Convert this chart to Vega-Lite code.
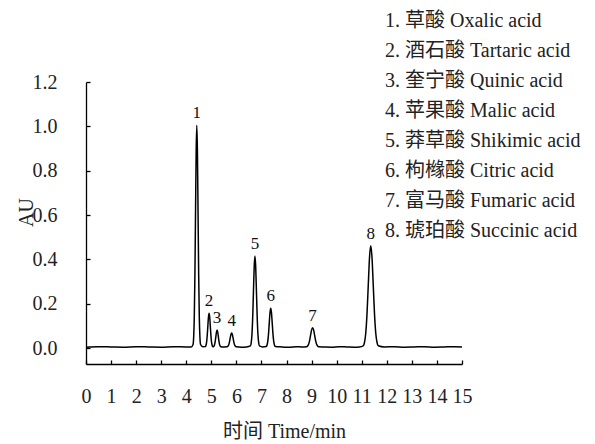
{
  "$schema": "https://vega.github.io/schema/vega-lite/v6.json",
  "autosize": "none",
  "width": 376,
  "height": 282,
  "padding": {"left": 86, "top": 82, "right": 133, "bottom": 80},
  "background": "white",
  "config": {
    "view": {"stroke": null},
    "font": "Liberation Serif",
    "axis": {"labelOverlap": false, "labelFlush": false, "labelBound": false},
    "axisX": {"labelOverlap": false, "labelFlush": false}
  },
  "datasets": {
    "signal": [
      {"t": 0, "v": 0.004}, {"t": 0.5, "v": 0.006}, {"t": 1, "v": 0.005}, {"t": 1.5, "v": 0.004},
      {"t": 2, "v": 0.006}, {"t": 2.5, "v": 0.005}, {"t": 3, "v": 0.004}, {"t": 3.5, "v": 0.006},
      {"t": 4, "v": 0.005}, {"t": 4.2, "v": 0.005},
      {"t": 4.27, "v": 0.016}, {"t": 4.295, "v": 0.049}, {"t": 4.32, "v": 0.14}, {"t": 4.345, "v": 0.33},
      {"t": 4.37, "v": 0.612}, {"t": 4.395, "v": 0.888}, {"t": 4.42, "v": 1.005}, {"t": 4.445, "v": 0.888},
      {"t": 4.47, "v": 0.612}, {"t": 4.495, "v": 0.33}, {"t": 4.52, "v": 0.14}, {"t": 4.545, "v": 0.049},
      {"t": 4.57, "v": 0.016}, {"t": 4.66, "v": 0.006},
      {"t": 4.76, "v": 0.0067}, {"t": 4.785, "v": 0.0117}, {"t": 4.81, "v": 0.0256}, {"t": 4.835, "v": 0.0544},
      {"t": 4.86, "v": 0.0972}, {"t": 4.885, "v": 0.1391}, {"t": 4.91, "v": 0.157}, {"t": 4.935, "v": 0.1391},
      {"t": 4.96, "v": 0.0972}, {"t": 4.985, "v": 0.0544}, {"t": 5.01, "v": 0.0256}, {"t": 5.035, "v": 0.0117},
      {"t": 5.06, "v": 0.0067},
      {"t": 5.08, "v": 0.0058}, {"t": 5.105, "v": 0.0083}, {"t": 5.13, "v": 0.0153}, {"t": 5.155, "v": 0.0297},
      {"t": 5.18, "v": 0.0511}, {"t": 5.205, "v": 0.0721}, {"t": 5.23, "v": 0.081}, {"t": 5.255, "v": 0.0721},
      {"t": 5.28, "v": 0.0511}, {"t": 5.305, "v": 0.0297}, {"t": 5.33, "v": 0.0153}, {"t": 5.355, "v": 0.0083},
      {"t": 5.38, "v": 0.0058}, {"t": 5.5, "v": 0.005},
      {"t": 5.63, "v": 0.0057}, {"t": 5.66, "v": 0.0078}, {"t": 5.69, "v": 0.0135}, {"t": 5.72, "v": 0.0255},
      {"t": 5.75, "v": 0.0432}, {"t": 5.78, "v": 0.0606}, {"t": 5.81, "v": 0.068}, {"t": 5.84, "v": 0.0606},
      {"t": 5.87, "v": 0.0432}, {"t": 5.9, "v": 0.0255}, {"t": 5.93, "v": 0.0135}, {"t": 5.96, "v": 0.0078},
      {"t": 5.99, "v": 0.0057}, {"t": 6.2, "v": 0.004}, {"t": 6.4, "v": 0.005},
      {"t": 6.56, "v": 0.0096}, {"t": 6.59, "v": 0.023}, {"t": 6.62, "v": 0.0605}, {"t": 6.65, "v": 0.1381},
      {"t": 6.68, "v": 0.2537}, {"t": 6.71, "v": 0.3668}, {"t": 6.74, "v": 0.415}, {"t": 6.77, "v": 0.3668},
      {"t": 6.8, "v": 0.2537}, {"t": 6.83, "v": 0.1381}, {"t": 6.86, "v": 0.0605}, {"t": 6.89, "v": 0.023},
      {"t": 6.92, "v": 0.0096}, {"t": 7.05, "v": 0.005},
      {"t": 7.19, "v": 0.0069}, {"t": 7.22, "v": 0.0127}, {"t": 7.25, "v": 0.0287}, {"t": 7.28, "v": 0.0618},
      {"t": 7.31, "v": 0.1111}, {"t": 7.34, "v": 0.1594}, {"t": 7.37, "v": 0.18}, {"t": 7.4, "v": 0.1594},
      {"t": 7.43, "v": 0.1111}, {"t": 7.46, "v": 0.0618}, {"t": 7.49, "v": 0.0287}, {"t": 7.52, "v": 0.0127},
      {"t": 7.55, "v": 0.0069},
      {"t": 7.8, "v": 0.005}, {"t": 8.1, "v": 0.004}, {"t": 8.4, "v": 0.006}, {"t": 8.6, "v": 0.005},
      {"t": 8.8, "v": 0.006}, {"t": 8.84, "v": 0.0088}, {"t": 8.88, "v": 0.0168}, {"t": 8.92, "v": 0.0332},
      {"t": 8.96, "v": 0.0578}, {"t": 9.0, "v": 0.0818}, {"t": 9.04, "v": 0.092}, {"t": 9.08, "v": 0.0818},
      {"t": 9.12, "v": 0.0578}, {"t": 9.16, "v": 0.0332}, {"t": 9.2, "v": 0.0168}, {"t": 9.24, "v": 0.0088},
      {"t": 9.28, "v": 0.006},
      {"t": 9.5, "v": 0.005}, {"t": 9.8, "v": 0.004}, {"t": 10.1, "v": 0.006}, {"t": 10.4, "v": 0.005},
      {"t": 10.7, "v": 0.004}, {"t": 10.9, "v": 0.005},
      {"t": 11.06, "v": 0.0101}, {"t": 11.11, "v": 0.025}, {"t": 11.16, "v": 0.0667}, {"t": 11.21, "v": 0.1531},
      {"t": 11.26, "v": 0.2816}, {"t": 11.31, "v": 0.4074}, {"t": 11.36, "v": 0.461}, {"t": 11.41, "v": 0.4074},
      {"t": 11.46, "v": 0.2816}, {"t": 11.51, "v": 0.1531}, {"t": 11.56, "v": 0.0667}, {"t": 11.61, "v": 0.025},
      {"t": 11.66, "v": 0.0101},
      {"t": 11.9, "v": 0.005}, {"t": 12.3, "v": 0.006}, {"t": 12.7, "v": 0.004}, {"t": 13.1, "v": 0.005},
      {"t": 13.5, "v": 0.006}, {"t": 13.9, "v": 0.004}, {"t": 14.3, "v": 0.005}, {"t": 14.7, "v": 0.006},
      {"t": 15, "v": 0.005}
    ],
    "peaks": [
      {"t": 4.42, "h": 1.005, "label": "1", "name": "1. 草酸 Oxalic acid"},
      {"t": 4.91, "h": 0.157, "label": "2", "name": "2. 酒石酸 Tartaric acid"},
      {"t": 5.23, "h": 0.081, "label": "3", "name": "3. 奎宁酸 Quinic acid"},
      {"t": 5.81, "h": 0.068, "label": "4", "name": "4. 苹果酸 Malic acid"},
      {"t": 6.74, "h": 0.415, "label": "5", "name": "5. 莽草酸 Shikimic acid"},
      {"t": 7.37, "h": 0.18, "label": "6", "name": "6. 枸橼酸 Citric acid"},
      {"t": 9.04, "h": 0.092, "label": "7", "name": "7. 富马酸 Fumaric acid"},
      {"t": 11.36, "h": 0.461, "label": "8", "name": "8. 琥珀酸 Succinic acid"}
    ]
  },
  "layer": [
    {
      "data": {"name": "signal"},
      "mark": {"type": "line", "color": "black", "strokeWidth": 1.5, "interpolate": "monotone"},
      "encoding": {
        "x": {
          "field": "t", "type": "quantitative",
          "scale": {"domain": [0, 15], "nice": false, "zero": false},
          "axis": {
            "values": [0, 1, 2, 3, 4, 5, 6, 7, 8, 9, 10, 11, 12, 13, 14, 15],
            "tickCount": 16,
            "format": "d", "grid": false,
            "title": "时间 Time/min",
            "titleFont": "Liberation Serif, Noto Sans CJK SC", "titleFontSize": 20, "titleFontWeight": "normal",
            "titleColor": "#222", "titleX": 198, "titleY": 67, "titleBaseline": "middle", "titleAlign": "center",
            "labelFont": "Liberation Serif", "labelFontSize": 20, "labelColor": "#222",
            "labelFlush": false, "labelOverlap": false, "labelPadding": 26,
            "domainColor": "black", "domainWidth": 1.3, "tickColor": "black", "tickWidth": 1.3, "tickSize": -4
          }
        },
        "y": {
          "field": "v", "type": "quantitative",
          "scale": {"domain": [-0.072, 1.2], "nice": false, "zero": false},
          "axis": {
            "values": [0, 0.2, 0.4, 0.6, 0.8, 1.0, 1.2],
            "format": ".1f", "grid": false,
            "title": "AU",
            "titleFont": "Liberation Serif", "titleFontSize": 20, "titleFontWeight": "normal",
            "titleColor": "#222", "titleX": -60, "titleY": 130, "titleAngle": -90,
            "titleBaseline": "middle", "titleAlign": "center",
            "labelFont": "Liberation Serif", "labelFontSize": 20, "labelColor": "#222", "labelPadding": 33,
            "labelFlush": false, "labelOverlap": false,
            "domainColor": "black", "domainWidth": 1.3, "tickColor": "black", "tickWidth": 1.3, "tickSize": -4
          }
        }
      }
    },
    {
      "data": {"name": "peaks"},
      "mark": {"type": "text", "baseline": "bottom", "dy": -3, "fontSize": 17, "font": "Liberation Serif"},
      "encoding": {
        "x": {"field": "t", "type": "quantitative"},
        "y": {"field": "h", "type": "quantitative"},
        "text": {"field": "label"},
        "color": {
          "field": "name", "type": "nominal",
          "scale": {"range": ["#111111"]},
          "legend": {
            "title": null, "orient": "none", "legendX": 279, "legendY": -71,
            "symbolSize": 0, "symbolOpacity": 0, "symbolStrokeWidth": 0, "symbolType": "circle",
            "labelFont": "Liberation Serif, Noto Sans CJK SC", "labelFontSize": 20, "labelColor": "#222",
            "labelLimit": 400, "labelOffset": 0, "rowPadding": 10, "padding": 0
          }
        }
      }
    }
  ]
}
